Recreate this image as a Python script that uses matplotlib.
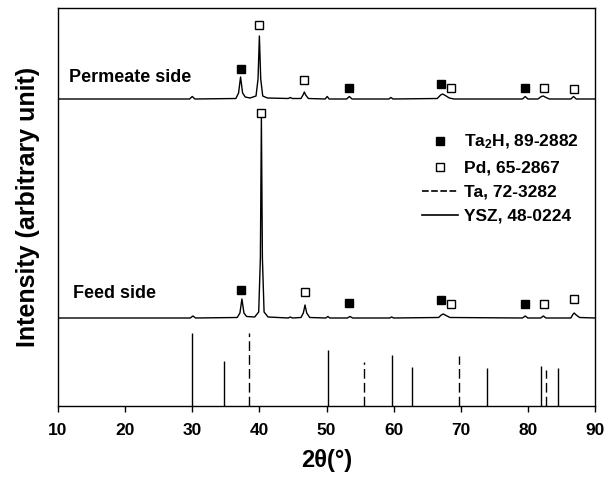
import matplotlib
matplotlib.use('Agg')
import matplotlib.pyplot as plt
from matplotlib.lines import Line2D

plt.rcParams['font.family'] = ['Liberation Sans', 'DejaVu Sans']
plt.rcParams['font.weight'] = 'bold'
plt.rcParams['mathtext.fontset'] = 'custom'
plt.rcParams['mathtext.rm'] = 'Liberation Sans:bold'
plt.rcParams['mathtext.bf'] = 'Liberation Sans:bold'
plt.rcParams['mathtext.default'] = 'bf'

# vertical offsets of the two measured patterns
perm_offset = 307
feed_offset = 88

# permeate side pattern (2theta, intensity above its baseline)
perm_x = [10, 29.6, 30.0, 30.4, 36.5, 36.9, 37.2, 37.5, 37.9, 38.6, 39.5, 39.8, 40.0, 40.2,
          40.5, 41.2, 44.3, 44.6, 44.9, 46.2, 46.5, 46.7, 46.9, 47.3, 49.8, 50.1, 50.4,
          53.0, 53.4, 53.8, 59.3, 59.6, 59.9, 66.5, 67.0, 67.3, 67.7, 68.3, 69.0,
          79.2, 79.6, 80.0, 81.5, 82.0, 82.3, 82.7, 83.2, 86.4, 86.8, 87.2, 90]
perm_y = [0, 0, 2.5, 0, 0.5, 6, 22, 6, 2, 1, 3, 20, 63, 20,
          3, 1, 0.5, 1.5, 0.5, 0.5, 4, 7, 4, 0.5, 0, 2.5, 0,
          0, 2.5, 0, 0, 1.5, 0, 0.5, 4, 5, 3.5, 1, 0,
          0, 2.5, 0, 0, 2.5, 3, 1.5, 0, 0, 2.5, 0, 0]

# feed side pattern
feed_x = [10, 29.7, 30.1, 30.5, 36.7, 37.1, 37.4, 37.7, 38.1, 39.3, 39.9, 40.15, 40.3, 40.45,
          40.7, 41.3, 44.3, 44.6, 44.9, 46.2, 46.55, 46.8, 47.05, 47.5, 49.9, 50.2, 50.5,
          53.1, 53.5, 53.9, 59.4, 59.7, 60.0, 66.7, 67.1, 67.4, 67.8, 68.4,
          79.2, 79.6, 80.0, 81.9, 82.3, 82.7, 86.4, 86.7, 86.9, 87.2, 87.7, 90]
feed_y = [0, 0, 2, 0, 0.5, 5, 19, 5, 1.5, 1, 6, 60, 200, 60,
          6, 1, 0, 1, 0, 0.5, 5, 13, 5, 0.5, 0, 1.5, 0,
          0, 1.5, 0, 0, 1, 0, 0.5, 3, 4, 2.5, 0.5,
          0, 2, 0, 0, 2, 0, 0, 3.5, 5, 3, 0.5, 0]

# reference stick patterns (relative intensity)
ysz_pos = [30.0, 34.8, 50.2, 59.8, 62.7, 73.9, 81.9, 84.5]
ysz_int = [100, 62, 77, 70, 53, 52, 55, 52]
ta_pos = [38.4, 55.6, 69.8, 82.7]
ta_int = [100, 60, 69, 50]
stick_scale = 0.73

# phase markers (2theta, height on plot)
perm_ta2h_x = [37.2, 53.3, 67.0, 79.5]
perm_ta2h_y = [337, 318, 322, 318]
perm_pd_x = [40.0, 46.7, 68.6, 82.4, 86.8]
perm_pd_y = [381, 326, 318, 318, 317]
feed_ta2h_x = [37.2, 53.4, 67.0, 79.5]
feed_ta2h_y = [116, 103, 106, 102]
feed_pd_x = [40.2, 46.8, 68.6, 82.4, 86.9]
feed_pd_y = [293, 114, 102, 102, 107]

fig = plt.figure(figsize=(6.06, 4.90), dpi=100)
ax = fig.add_axes([58/606, 84/490, 537/606, 398/490])

ax.plot(perm_x, [v + perm_offset for v in perm_y], color='black', lw=1.0)
ax.plot(feed_x, [v + feed_offset for v in feed_y], color='black', lw=1.0)
ax.vlines(ysz_pos, 0, [v * stick_scale for v in ysz_int], color='black', lw=1.0)
ax.vlines(ta_pos, 0, [v * stick_scale for v in ta_int], color='black', lw=1.0,
          linestyles=(0, (7, 3)))

ms = 5.2
ax.plot(perm_ta2h_x, perm_ta2h_y, 's', color='black', ms=ms)
ax.plot(feed_ta2h_x, feed_ta2h_y, 's', color='black', ms=ms)
ax.plot(perm_pd_x, perm_pd_y, 's', mfc='white', mec='black', mew=1.0, ms=ms)
ax.plot(feed_pd_x, feed_pd_y, 's', mfc='white', mec='black', mew=1.0, ms=ms)

ax.text(11.6, 324, 'Permeate side', fontsize=13, fontweight='bold', va='baseline')
ax.text(12.2, 108, 'Feed side', fontsize=13, fontweight='bold', va='baseline')

handles = [
    Line2D([], [], ls='none', marker='s', color='black', ms=ms),
    Line2D([], [], ls='none', marker='s', mfc='white', mec='black', ms=ms),
    Line2D([], [], color='black', lw=1.2, ls=(0, (4, 1.5))),
    Line2D([], [], color='black', lw=1.2),
]
labels = ['Ta$_2$H, 89-2882', 'Pd, 65-2867', 'Ta, 72-3282', 'YSZ, 48-0224']
ax.legend(handles, labels, loc='upper left', bbox_to_anchor=(422/606, 1 - 133/490),
          bbox_transform=fig.transFigure, frameon=False,
          borderpad=0, borderaxespad=0,
          handlelength=2.1, handletextpad=0.3, labelspacing=0.52,
          prop={'weight': 'bold', 'size': 12.5})

ax.set_xlim(10, 90)
ax.set_ylim(0, 398)
ax.set_xticks(range(10, 91, 10))
ax.set_yticks([])
ax.tick_params(axis='x', direction='out', length=4, width=1, labelsize=12.5, pad=8)
for lab in ax.get_xticklabels():
    lab.set_fontweight('bold')
for s in ax.spines.values():
    s.set_linewidth(1.0)

ax.set_xlabel('2θ(°)', fontsize=17, fontweight='bold', labelpad=8)
ax.set_ylabel('Intensity (arbitrary unit)', fontsize=18, fontweight='bold', labelpad=13)

fig.savefig('out.png', dpi=100)
